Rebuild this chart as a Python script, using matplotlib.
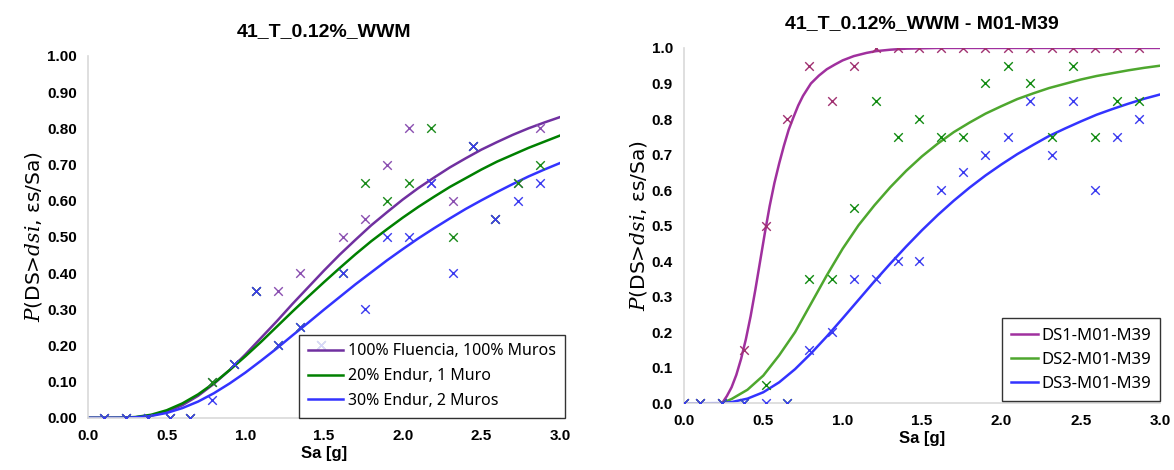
import matplotlib
matplotlib.use('Agg')
import matplotlib.pyplot as plt

plt.rcParams['font.family'] = ['Liberation Sans', 'DejaVu Sans']
plt.rcParams['mathtext.fontset'] = 'dejavuserif'

# ---- left chart: 41_T_0.12%_WWM ----
sa_pts = [0.10, 0.24, 0.38, 0.52, 0.65, 0.79, 0.93, 1.07, 1.21, 1.35, 1.48,
          1.62, 1.76, 1.90, 2.04, 2.18, 2.32, 2.45, 2.59, 2.73, 2.87]
fluencia_pts = [0, 0, 0, 0, 0, 0.10, 0.15, 0.35, 0.35, 0.40, 0.20,
                0.50, 0.55, 0.70, 0.80, 0.65, 0.60, 0.75, 0.55, 0.65, 0.80]
endur1_pts = [0, 0, 0, 0, 0, 0.10, 0.15, 0.35, 0.20, 0.25, 0.20,
              0.40, 0.65, 0.60, 0.65, 0.80, 0.50, 0.75, 0.55, 0.65, 0.70]
endur2_pts = [0, 0, 0, 0, 0, 0.05, 0.15, 0.35, 0.20, 0.25, 0.20,
              0.40, 0.30, 0.50, 0.50, 0.65, 0.40, 0.75, 0.55, 0.60, 0.65]

sa_curve = [0.0, 0.1, 0.2, 0.3, 0.4, 0.5, 0.6, 0.7, 0.8, 0.9, 1.0, 1.1, 1.2, 1.3,
            1.4, 1.5, 1.6, 1.7, 1.8, 1.9, 2.0, 2.1, 2.2, 2.3, 2.4, 2.5, 2.6,
            2.7, 2.8, 2.9, 3.0]
fluencia_curve = [0, 0, 0.0001, 0.0013, 0.006, 0.017, 0.035, 0.061, 0.094, 0.132,
                  0.175, 0.221, 0.267, 0.315, 0.361, 0.407, 0.451, 0.492, 0.532,
                  0.568, 0.603, 0.635, 0.664, 0.692, 0.717, 0.741, 0.762, 0.782,
                  0.800, 0.816, 0.831]
endur1_curve = [0, 0, 0.0002, 0.0022, 0.0084, 0.021, 0.040, 0.065, 0.096, 0.132,
                0.170, 0.210, 0.252, 0.294, 0.335, 0.375, 0.414, 0.452, 0.488,
                0.521, 0.553, 0.583, 0.611, 0.638, 0.662, 0.686, 0.708, 0.727,
                0.746, 0.763, 0.780]
endur2_curve = [0, 0, 0.0001, 0.0014, 0.0053, 0.0135, 0.027, 0.045, 0.068, 0.095,
                0.125, 0.158, 0.192, 0.228, 0.263, 0.299, 0.334, 0.369, 0.402,
                0.435, 0.466, 0.496, 0.524, 0.551, 0.577, 0.601, 0.624, 0.646,
                0.667, 0.686, 0.704]

# ---- right chart: 41_T_0.12%_WWM - M01-M39 ----
sa_pts_r = [0.0, 0.10, 0.24, 0.38, 0.52, 0.65, 0.79, 0.93, 1.07, 1.21, 1.35,
            1.48, 1.62, 1.76, 1.90, 2.04, 2.18, 2.32, 2.45, 2.59, 2.73, 2.87]
ds1_pts = [0, 0, 0, 0.15, 0.50, 0.80, 0.95, 0.85, 0.95, 1, 1,
           1, 1, 1, 1, 1, 1, 1, 1, 1, 1, 1]
ds2_pts = [0, 0, 0, 0, 0.05, 0, 0.35, 0.35, 0.55, 0.85, 0.75,
           0.80, 0.75, 0.75, 0.90, 0.95, 0.90, 0.75, 0.95, 0.75, 0.85, 0.85]
ds3_pts = [0, 0, 0, 0, 0, 0, 0.15, 0.20, 0.35, 0.35, 0.40,
           0.40, 0.60, 0.65, 0.70, 0.75, 0.85, 0.70, 0.85, 0.60, 0.75, 0.80]

sa_ds1 = [0.0, 0.1, 0.24, 0.27, 0.30, 0.33, 0.36, 0.39, 0.42, 0.45, 0.48, 0.51,
          0.54, 0.57, 0.60, 0.63, 0.66, 0.69, 0.72, 0.75, 0.80, 0.85, 0.90,
          0.95, 1.00, 1.07, 1.15, 1.21, 1.30, 1.40, 1.60, 2.0, 2.5, 3.0]
ds1_curve = [0, 0, 0, 0.02, 0.045, 0.08, 0.125, 0.18, 0.245, 0.32, 0.40, 0.48,
             0.555, 0.62, 0.675, 0.725, 0.77, 0.805, 0.838, 0.865, 0.90, 0.922,
             0.94, 0.953, 0.965, 0.977, 0.986, 0.991, 0.995, 0.998, 1.0, 1.0,
             1.0, 1.0]
sa_ds23 = [0.0, 0.1, 0.24, 0.3, 0.4, 0.5, 0.6, 0.7, 0.8, 0.9, 1.0, 1.1, 1.2,
           1.3, 1.4, 1.5, 1.6, 1.7, 1.8, 1.9, 2.0, 2.1, 2.2, 2.3, 2.4, 2.5,
           2.6, 2.7, 2.8, 2.9, 3.0]
ds2_curve = [0, 0, 0, 0.012, 0.038, 0.078, 0.135, 0.20, 0.28, 0.36, 0.435, 0.501,
             0.557, 0.608, 0.654, 0.695, 0.731, 0.763, 0.790, 0.815, 0.836, 0.856,
             0.872, 0.887, 0.899, 0.911, 0.921, 0.929, 0.937, 0.944, 0.950]
ds3_curve = [0, 0, 0.0003, 0.0033, 0.013, 0.031, 0.059, 0.096, 0.140, 0.188,
             0.239, 0.291, 0.343, 0.393, 0.441, 0.487, 0.530, 0.570, 0.607,
             0.641, 0.672, 0.701, 0.727, 0.752, 0.773, 0.793, 0.812, 0.828,
             0.843, 0.857, 0.869]

fig = plt.figure(figsize=(11.74, 4.70), dpi=100)
ax1 = fig.add_axes([0.075, 0.111, 0.402, 0.770])
ax2 = fig.add_axes([0.5826, 0.142, 0.4055, 0.756])

ylab = r'$P$(DS>$dsi$, εs/Sa)'


def style(ax, title, yticks, yfmt):
    ax.set_xlim(0, 3.0)
    ax.set_ylim(0, 1.0)
    ax.set_xticks([0.0, 0.5, 1.0, 1.5, 2.0, 2.5, 3.0])
    ax.set_xticklabels([f'{v:.1f}' for v in ax.get_xticks()], fontweight='bold', fontsize=11)
    ax.set_yticks(yticks)
    ax.set_yticklabels([yfmt.format(v) for v in yticks], fontweight='bold', fontsize=11)
    ax.tick_params(length=0, pad=8)
    for s in ['top', 'right']:
        ax.spines[s].set_visible(False)
    for s in ['left', 'bottom']:
        ax.spines[s].set_color('#d9d9d9')
        ax.spines[s].set_linewidth(1.2)
    ax.set_title(title, fontweight='bold', fontsize=14, pad=14)
    ax.set_xlabel('Sa [g]', fontweight='bold', fontsize=12, labelpad=2)
    ax.set_ylabel(ylab, fontsize=14.5, labelpad=2, family=['DejaVu Sans'])


mk = dict(marker='x', s=38, linewidths=1.0, zorder=3)

ax1.plot(sa_curve, fluencia_curve, color='#7030a0', lw=1.8, label='100% Fluencia, 100% Muros')
ax1.plot(sa_curve, endur1_curve, color='#008000', lw=1.8, label='20% Endur, 1 Muro')
ax1.plot(sa_curve, endur2_curve, color='#3333ff', lw=1.8, label='30% Endur, 2 Muros')
ax1.scatter(sa_pts, fluencia_pts, color='#8a4fb0', **mk)
ax1.scatter(sa_pts, endur1_pts, color='#1a8a1a', **mk)
ax1.scatter(sa_pts, endur2_pts, color='#3a3af0', **mk)
style(ax1, '41_T_0.12%_WWM', [i / 10 for i in range(11)], '{:.2f}')
leg = ax1.legend(loc='lower right', bbox_to_anchor=(1.01, 0.0), frameon=True,
                 fancybox=False, edgecolor='black', handlelength=2.2,
                 handletextpad=0.3, borderaxespad=0.0, borderpad=0.55,
                 labelspacing=0.55, prop={'family': 'Noto Sans', 'size': 11.5})
leg.get_frame().set_linewidth(1.0)

ax2.plot(sa_ds1, ds1_curve, color='#a0309e', lw=1.8, label='DS1-M01-M39')
ax2.plot(sa_ds23, ds2_curve, color='#4ea72e', lw=1.8, label='DS2-M01-M39')
ax2.plot(sa_ds23, ds3_curve, color='#3333ff', lw=1.8, label='DS3-M01-M39')
ax2.scatter(sa_pts_r, ds1_pts, color='#a03070', **mk)
ax2.scatter(sa_pts_r, ds2_pts, color='#108a10', **mk)
ax2.scatter(sa_pts_r, ds3_pts, color='#3a3af0', **mk)
style(ax2, '41_T_0.12%_WWM - M01-M39', [i / 10 for i in range(11)], '{:.1f}')
leg2 = ax2.legend(loc='lower right', bbox_to_anchor=(1.0, 0.005), frameon=True,
                  fancybox=False, edgecolor='black', handlelength=1.6,
                  handletextpad=0.2, borderaxespad=0.0, borderpad=0.55,
                  labelspacing=0.5, prop={'family': 'Noto Sans', 'size': 12})
leg2.get_frame().set_linewidth(1.0)

fig.savefig('out.png', dpi=100)
